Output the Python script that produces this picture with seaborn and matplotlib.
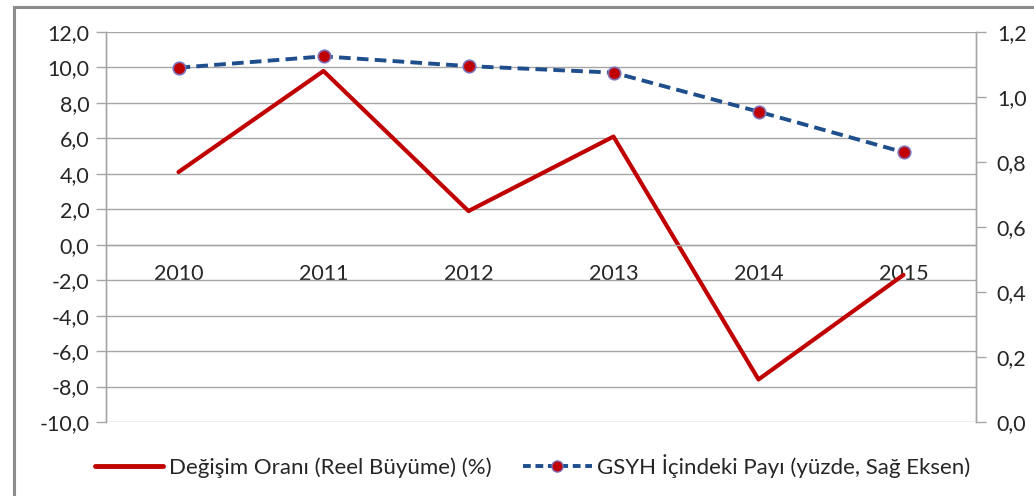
import matplotlib
matplotlib.use('Agg')
import matplotlib.pyplot as plt
import pandas as pd
import seaborn as sns
from matplotlib.lines import Line2D
from matplotlib.patches import Rectangle
from matplotlib.ticker import FuncFormatter

years = ['2010', '2011', '2012', '2013', '2014', '2015']
growth = [4.1, 9.8, 1.9, 6.1, -7.6, -1.7]
gdp_share = [1.09, 1.125, 1.095, 1.075, 0.955, 0.83]

label_growth = 'Değişim Oranı (Reel Büyüme) (%)'
label_share = 'GSYH İçindeki Payı (yüzde, Sağ Eksen)'

df = pd.DataFrame({'year': years, 'growth': growth, 'share': gdp_share})
df['pos'] = range(len(years))

sns.set_style('white')
plt.rcParams['font.family'] = ['Lato', 'DejaVu Sans']

red = '#C00000'
blue = '#1F4E8C'
grid_col = '#A6A6A6'
text_col = '#262626'
fs = 15.5

fig = plt.figure(figsize=(10.34, 4.96), dpi=100)
ax = fig.add_axes([106 / 1034, 1 - 422 / 496, (976 - 106) / 1034, (422 - 32) / 496])
ax2 = ax.twinx()

sns.lineplot(data=df, x='pos', y='growth', ax=ax, color=red, linewidth=3,
             legend=False)
sns.lineplot(data=df, x='pos', y='share', ax=ax2, color=blue, linewidth=2.8,
             linestyle=(0, (3, 1.6)), marker='o', markersize=9,
             markerfacecolor=red, markeredgecolor='#8070B8', markeredgewidth=1.2,
             legend=False)

comma = FuncFormatter(lambda v, p: f'{v:.1f}'.replace('.', ','))

ax.set_xlim(-0.5, len(years) - 0.5)
ax.set_ylim(-10, 12)
ax.set_yticks(range(-10, 13, 2))
ax.yaxis.set_major_formatter(comma)
ax.grid(axis='y', color=grid_col, linewidth=1)
ax.set_axisbelow(True)

ax2.set_ylim(0, 1.2)
ax2.set_yticks([0, 0.2, 0.4, 0.6, 0.8, 1.0, 1.2])
ax2.yaxis.set_major_formatter(comma)
ax2.grid(False)

# category axis crossing at zero
ax.spines['bottom'].set_position(('data', 0))
ax.set_xticks(df['pos'])
ax.set_xticklabels(years)
ax.set_xticks([i - 0.5 for i in range(len(years) + 1)], minor=True)
ax.tick_params(axis='x', which='major', length=0, pad=14, labelsize=fs, labelcolor=text_col)
ax.tick_params(axis='x', which='minor', length=6, color=grid_col, width=1, direction='out')
ax.tick_params(axis='y', length=7, color=grid_col, width=1, labelsize=fs, labelcolor=text_col, pad=5)
ax2.tick_params(axis='y', length=7, color=grid_col, width=1, labelsize=fs, labelcolor=text_col, pad=8)
ax.set_xlabel('')
ax.set_ylabel('')
ax2.set_ylabel('')

for a in (ax, ax2):
    a.spines['top'].set_visible(False)
    for s in ('left', 'right', 'bottom'):
        a.spines[s].set_color(grid_col)
        a.spines[s].set_linewidth(1)
ax2.spines['bottom'].set_visible(False)

handles = [
    Line2D([], [], color=red, linewidth=3.5),
    Line2D([], [], color=blue, linewidth=2.8, linestyle=(0, (2, 1.2)), marker='o',
           markersize=8, markerfacecolor=red, markeredgecolor='#8070B8'),
]
fig.legend(handles, [label_growth, label_share], loc='center', ncol=2,
           bbox_to_anchor=(0.515, 1 - 466 / 496), frameon=False, fontsize=16,
           handlelength=3.1, handletextpad=0.25, columnspacing=1.4,
           labelcolor=text_col)

# chart frame (cropped at right and bottom)
fig.patches.append(Rectangle((14 / 1034, -0.1), 1.2, 1 - 7 / 496 + 0.1,
                             transform=fig.transFigure, fill=False,
                             edgecolor='#8C8C8C', linewidth=2.2))

fig.savefig('out.png', dpi=100)
